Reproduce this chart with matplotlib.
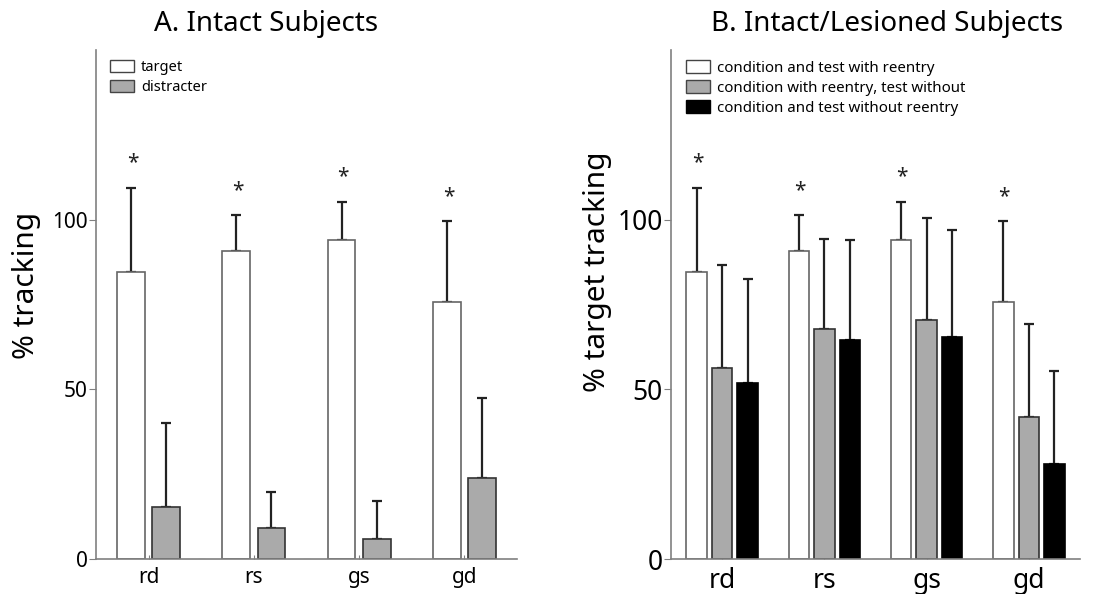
import numpy as np
import matplotlib
matplotlib.use('Agg')
import matplotlib.pyplot as plt
from matplotlib.patches import Patch

plt.rcParams['font.family'] = ['Noto Sans', 'DejaVu Sans']
plt.rcParams['font.weight'] = 'light'

groups = ['rd', 'rs', 'gs', 'gd']

# panel A
a_target = [84.7, 90.9, 94.1, 75.8]
a_target_err = [109.4, 101.3, 105.3, 99.5]
a_distr = [15.3, 9.0, 5.8, 23.8]
a_distr_err = [40.0, 19.7, 17.0, 47.4]

# panel B
b_both = [84.6, 90.9, 94.1, 75.8]
b_both_err = [109.4, 101.3, 105.3, 99.5]
b_cond = [56.4, 67.8, 70.3, 41.7]
b_cond_err = [86.5, 94.4, 100.5, 69.3]
b_none = [52.0, 64.4, 65.3, 27.9]
b_none_err = [82.6, 94.1, 97.1, 55.5]

AX_C = '#808080'
ERR_C = '#222222'
GRAY = '#aaaaaa'

fig = plt.figure(figsize=(10.98, 5.94), dpi=100)
axA = fig.add_axes([96/1098, 35/594, 421/1098, 509/594])
axB = fig.add_axes([671/1098, 35/594, 409/1098, 509/594])

x = np.arange(len(groups))


def errs(ax, xs, tops, errtop):
    tops = np.array(tops); errtop = np.array(errtop)
    ax.errorbar(xs, tops, yerr=[np.zeros_like(tops), errtop - tops], fmt='none',
                ecolor=ERR_C, elinewidth=1.6, capsize=3.5, capthick=1.6, zorder=1)


def style(ax, labsize, ticksize):
    ax.set_xlim(-0.5, 3.5)
    ax.set_ylim(0, 150)
    ax.set_yticks([0, 50, 100])
    ax.set_xticks(x)
    ax.set_xticklabels(groups)
    for s in ['top', 'right']:
        ax.spines[s].set_visible(False)
    for s in ['left', 'bottom']:
        ax.spines[s].set_color(AX_C)
        ax.spines[s].set_linewidth(1.2)
    ax.tick_params(axis='y', direction='out', length=5, color=AX_C, labelsize=ticksize, pad=1)
    ax.tick_params(axis='x', direction='in', length=3, color=AX_C, labelsize=labsize, pad=6)


# ---- A
w = 0.264
axA.bar(x - 1/6, a_target, w, color='white', edgecolor='#666666', linewidth=1.2, zorder=2)
axA.bar(x + 1/6, a_distr, w, color=GRAY, edgecolor='#333333', linewidth=1.2, zorder=2)
axA.bar(x + 1/2, np.zeros(4), 0.07, color=GRAY, edgecolor='#555555', linewidth=0.8, zorder=2)
errs(axA, x - 1/6, a_target, a_target_err)
errs(axA, x + 1/6, a_distr, a_distr_err)
for xi, e in zip(x, a_target_err):
    axA.text(xi - 0.15, e + 7.4, '*', ha='center', va='center', fontsize=15, color='#222222')
style(axA, 15, 15)
axA.legend(handles=[Patch(facecolor='white', edgecolor='#444444'),
                    Patch(facecolor=GRAY, edgecolor='#444444')],
           labels=['target', 'distracter'], loc='upper left', frameon=False,
           fontsize=10.5, handlelength=1.6, handleheight=0.9, handletextpad=0.5,
           labelspacing=0.3, borderaxespad=0.3, bbox_to_anchor=(0.01, 1.0))

# ---- B
w = 0.2
axB.bar(x - 0.25, b_both, w, color='white', edgecolor='#666666', linewidth=1.2, zorder=2)
axB.bar(x, b_cond, w, color=GRAY, edgecolor='#333333', linewidth=1.2, zorder=2)
axB.bar(x + 0.25, b_none, w, color='black', edgecolor='black', linewidth=1.2, zorder=2)
axB.bar(x + 0.5, np.zeros(4), 0.06, color=GRAY, edgecolor='#555555', linewidth=0.8, zorder=2)
errs(axB, x - 0.25, b_both, b_both_err)
errs(axB, x, b_cond, b_cond_err)
errs(axB, x + 0.25, b_none, b_none_err)
for xi, e in zip(x, b_both_err):
    axB.text(xi - 0.24, e + 7.4, '*', ha='center', va='center', fontsize=15, color='#222222')
style(axB, 19, 19)
axB.legend(handles=[Patch(facecolor='white', edgecolor='#444444'),
                    Patch(facecolor=GRAY, edgecolor='#444444'),
                    Patch(facecolor='black', edgecolor='black')],
           labels=['condition and test with reentry', 'condition with reentry, test without',
                   'condition and test without reentry'],
           loc='upper left', frameon=False, fontsize=10.8, handlelength=1.6,
           handleheight=0.9, handletextpad=0.5, labelspacing=0.3, borderaxespad=0.3,
           bbox_to_anchor=(0.01, 1.0))

fig.text(266/1098, 1 - 24/594, 'A. Intact Subjects', ha='center', va='center', fontsize=20)
fig.text(887/1098, 1 - 24/594, 'B. Intact/Lesioned Subjects', ha='center', va='center', fontsize=20)
fig.text(27/1098, 1 - 285/594, '% tracking', rotation=90, ha='center', va='center', fontsize=21.5)
fig.text(598/1098, 1 - 272/594, '% target tracking', rotation=90, ha='center', va='center', fontsize=21.5)

fig.savefig('out.png', dpi=100)
